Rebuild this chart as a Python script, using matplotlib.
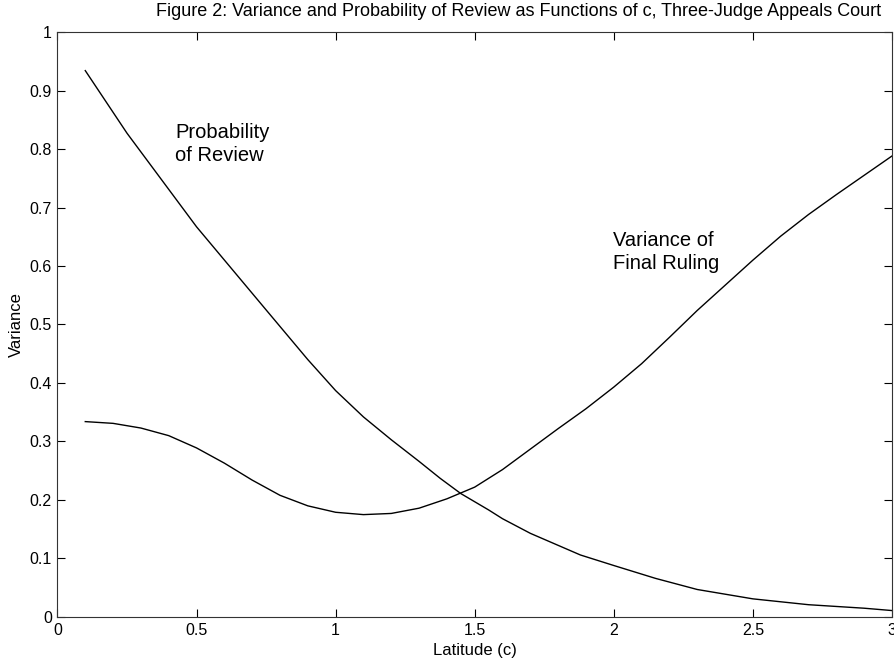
import numpy as np
import matplotlib.pyplot as plt

plt.rcParams['font.family'] = ['Liberation Sans', 'DejaVu Sans']

# Значения
c_review = [0.1, 0.25, 0.5, 0.75, 0.9, 1.0, 1.1, 1.2, 1.3, 1.376, 1.45, 1.55, 1.6, 1.7, 1.88,
            2.0, 2.15, 2.3, 2.4, 2.5, 2.6, 2.7, 2.8, 2.9, 3.0]
p_review = [0.934, 0.827, 0.667, 0.525, 0.44, 0.387, 0.342, 0.303, 0.266, 0.237, 0.211,
            0.183, 0.168, 0.143, 0.106, 0.088, 0.066, 0.047, 0.039, 0.031, 0.026, 0.021,
            0.018, 0.015, 0.011]

c_var = [0.1, 0.2, 0.3, 0.4, 0.5, 0.6, 0.7, 0.8, 0.9, 1.0, 1.1, 1.2, 1.3, 1.4, 1.5,
         1.6, 1.7, 1.8, 1.9, 2.0, 2.1, 2.2, 2.3, 2.4, 2.5, 2.6, 2.7, 2.8, 2.9, 3.0]
var_ruling = [0.334, 0.331, 0.323, 0.310, 0.289, 0.263, 0.234, 0.208, 0.190, 0.179, 0.175,
              0.177, 0.186, 0.202, 0.222, 0.252, 0.287, 0.322, 0.356, 0.393, 0.433, 0.478,
              0.524, 0.567, 0.610, 0.651, 0.688, 0.722, 0.755, 0.788]

x_ticks = [0, 0.5, 1, 1.5, 2, 2.5, 3]
x_tick_labels = ['0', '0.5', '1', '1.5', '2', '2.5', '3']
y_ticks = [0, 0.1, 0.2, 0.3, 0.4, 0.5, 0.6, 0.7, 0.8, 0.9, 1]
y_tick_labels = ['0', '0.1', '0.2', '0.3', '0.4', '0.5', '0.6', '0.7', '0.8', '0.9', '1']

fig = plt.figure(figsize=(8.95, 6.64), dpi=100)
ax = fig.add_axes([0.0642, 0.0708, 0.9324, 0.881])

ax.plot(c_review, p_review, color='black', linewidth=1.0)
ax.plot(c_var, var_ruling, color='black', linewidth=1.0)

ax.text(0.423, 0.808, 'Probability\nof Review', fontsize=14.5, va='center', ha='left',
        linespacing=1.25)
ax.text(1.998, 0.624, 'Variance of\nFinal Ruling', fontsize=14.5, va='center', ha='left',
        linespacing=1.25)

ax.set_xlim(0, 3)
ax.set_ylim(0, 1)
ax.set_xticks(x_ticks)
ax.set_xticklabels(x_tick_labels)
ax.set_yticks(y_ticks)
ax.set_yticklabels(y_tick_labels)
ax.tick_params(direction='in', length=5.5, top=True, right=True, labelsize=11.5, pad=4)
for s in ax.spines.values():
    s.set_linewidth(0.8)
    s.set_color('#333333')

# Заголовок сдвинут вправо, как в оригинале
fig.text(0.579, 0.982,
         'Figure 2: Variance and Probability of Review as Functions of c, Three-Judge Appeals Court',
         fontsize=13, ha='center', va='center')
ax.set_xlabel('Latitude (c)', fontsize=12, labelpad=4)
ax.set_ylabel('Variance', fontsize=12, labelpad=4)

fig.savefig('out.png', dpi=100)
